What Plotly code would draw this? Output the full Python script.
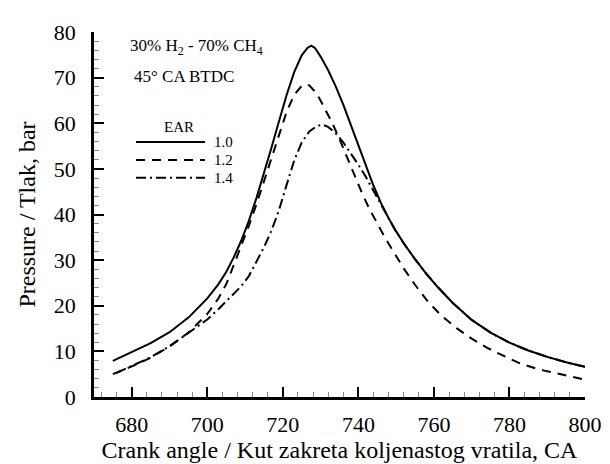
import plotly.graph_objects as go

# EAR 1.0 (solid)
x_10 = [675, 680, 685, 690, 695, 700, 703, 705, 707, 709, 711, 713, 715, 717, 719, 721, 723,
        725, 726.5, 727.5, 728.5, 730, 732, 734, 736, 738, 740, 742, 744, 746, 748, 750, 752,
        755, 758, 761, 765, 770, 775, 780, 785, 790, 795, 800]
p_10 = [7.9, 9.9, 11.8, 14.2, 17.4, 21.6, 24.8, 27.4, 30.6, 34.3, 38.6, 43.6, 49, 54.7, 60.5,
        66.2, 71.2, 74.9, 76.5, 77.0, 76.5, 74.6, 71.6, 68.1, 64.1, 59.6, 55.1, 50.6, 46.3,
        42.5, 39.2, 36.3, 33.7, 30.2, 27, 24.1, 20.6, 16.9, 14.1, 11.9, 10.2, 8.8, 7.6, 6.6]

# EAR 1.2 (dashed)
x_12 = [675, 680, 685, 690, 695, 700, 703, 705, 707, 709, 711, 713, 715, 717, 719, 721, 723,
        725, 726, 727, 729, 731, 733, 735, 737, 739, 741, 743, 745, 747, 749.7, 752, 755,
        758.5, 762, 766, 770, 774, 779, 783, 788, 794, 800]
p_12 = [5.0, 6.7, 8.6, 11.1, 14.1, 18.2, 21.7, 24.7, 28.9, 33, 37.5, 42.2, 47.3, 52.5, 57.8,
        62.5, 66.2, 68.2, 68.5, 68.3, 66.5, 63.5, 60.2, 56.5, 52.4, 48.3, 44.6, 41.1, 38, 35,
        31.3, 28.2, 24.6, 20.8, 17.8, 15.1, 12.8, 10.8, 8.8, 7.3, 6.0, 4.9, 3.8]

# EAR 1.4 (dash-dot)
x_14 = [676, 680, 685, 690, 695, 700, 703, 706, 709, 711, 713, 715, 717, 719, 721, 723, 725,
        727, 729, 730.5, 732, 734, 736, 738, 740, 742, 744, 746, 748, 750, 752, 755, 758,
        761, 765, 770, 775, 780, 785, 790, 795, 800]
p_14 = [5.3, 6.8, 8.7, 11.1, 14.0, 17.0, 19.3, 21.7, 24.3, 26.5, 29.5, 32.8, 36.5, 41, 46.5,
        51.8, 55.8, 58.2, 59.4, 59.7, 59.2, 57.8, 55.8, 53.4, 50.9, 48.2, 45.2, 42.1, 39.0,
        36.2, 33.7, 30.2, 27.0, 24.1, 20.6, 16.9, 14.1, 11.9, 10.2, 8.8, 7.6, 6.6]

names = ["1.0", "1.2", "1.4"]
dashes = ["solid", "9px,7px", "10px,4px,2px,4px"]
legend_title = "EAR"
x_ticks = [680, 700, 720, 740, 760, 780, 800]
y_ticks = [0, 10, 20, 30, 40, 50, 60, 70, 80]

FONT = "Liberation Serif"

# plot area in pixels (for placing the hand-drawn legend / notes)
L, R, T, B = 86, 577, 19, 397
def px(xp):
    return (xp - L) / (R - L)
def py(yp):
    return (B - yp) / (B - T)

fig = go.Figure()
for xs, ps, nm, dash in [(x_10, p_10, names[0], dashes[0]),
                         (x_12, p_12, names[1], dashes[1]),
                         (x_14, p_14, names[2], dashes[2])]:
    fig.add_trace(go.Scatter(x=xs, y=ps, mode="lines", name=nm,
                             line=dict(color="black", width=2, dash=dash)))

shapes = []
annotations = [
    dict(text="30% H<sub>2</sub> - 70% CH<sub>4</sub>", xref="paper", yref="paper",
         x=px(120), y=py(35), xanchor="left", yanchor="middle",
         showarrow=False, font=dict(size=17, family=FONT, color="black")),
    dict(text="45° CA BTDC", xref="paper", yref="paper",
         x=px(124), y=py(65), xanchor="left", yanchor="middle",
         showarrow=False, font=dict(size=17, family=FONT, color="black")),
    dict(text=legend_title, xref="paper", yref="paper",
         x=px(171), y=py(117), xanchor="center", yanchor="middle",
         showarrow=False, font=dict(size=15, family=FONT, color="black")),
]
for i, (nm, dash) in enumerate(zip(names, dashes)):
    yy = [133, 151.5, 170][i]
    shapes.append(dict(type="line", xref="paper", yref="paper",
                       x0=px(128), x1=px(197), y0=py(yy), y1=py(yy),
                       line=dict(color="black", width=2, dash=dash)))
    annotations.append(dict(text=nm, xref="paper", yref="paper",
                            x=px(204), y=py(yy), xanchor="left", yanchor="middle",
                            showarrow=False, font=dict(size=15, family=FONT, color="black")))

fig.update_layout(
    width=610, height=464,
    margin=dict(l=L, r=610 - R, t=T, b=464 - B),
    paper_bgcolor="white", plot_bgcolor="white",
    font=dict(family=FONT, color="black"),
    showlegend=False,
    xaxis=dict(
        range=[670, 800], tickvals=x_ticks, ticktext=[str(v) for v in x_ticks],
        showgrid=False, zeroline=False,
        showline=True, linecolor="black", linewidth=2.5,
        ticks="inside", ticklen=10, tickwidth=2, tickcolor="black",
        tickfont=dict(size=22, family=FONT, color="black"), ticklabelstandoff=6,
        minor=dict(dtick=4, tick0=680, ticks="inside", ticklen=5, tickwidth=1, tickcolor="#888"),
        title=dict(text="Crank angle / Kut zakreta koljenastog vratila, CA",
                   font=dict(size=24, family=FONT, color="black"), standoff=6),
    ),
    yaxis=dict(
        range=[0, 80], tickvals=y_ticks, ticktext=[str(v) for v in y_ticks],
        showgrid=False, zeroline=False,
        showline=True, linecolor="black", linewidth=2.5,
        ticks="inside", ticklen=10, tickwidth=2, tickcolor="black",
        tickfont=dict(size=22, family=FONT, color="black"), ticklabelstandoff=11,
        minor=dict(dtick=2, tick0=0, ticks="inside", ticklen=5, tickwidth=1, tickcolor="#888"),
        title=dict(text="Pressure / Tlak, bar", font=dict(size=24, family=FONT, color="black"),
                   standoff=12),
    ),
    shapes=shapes,
    annotations=annotations,
)

fig.write_html("out.html")
